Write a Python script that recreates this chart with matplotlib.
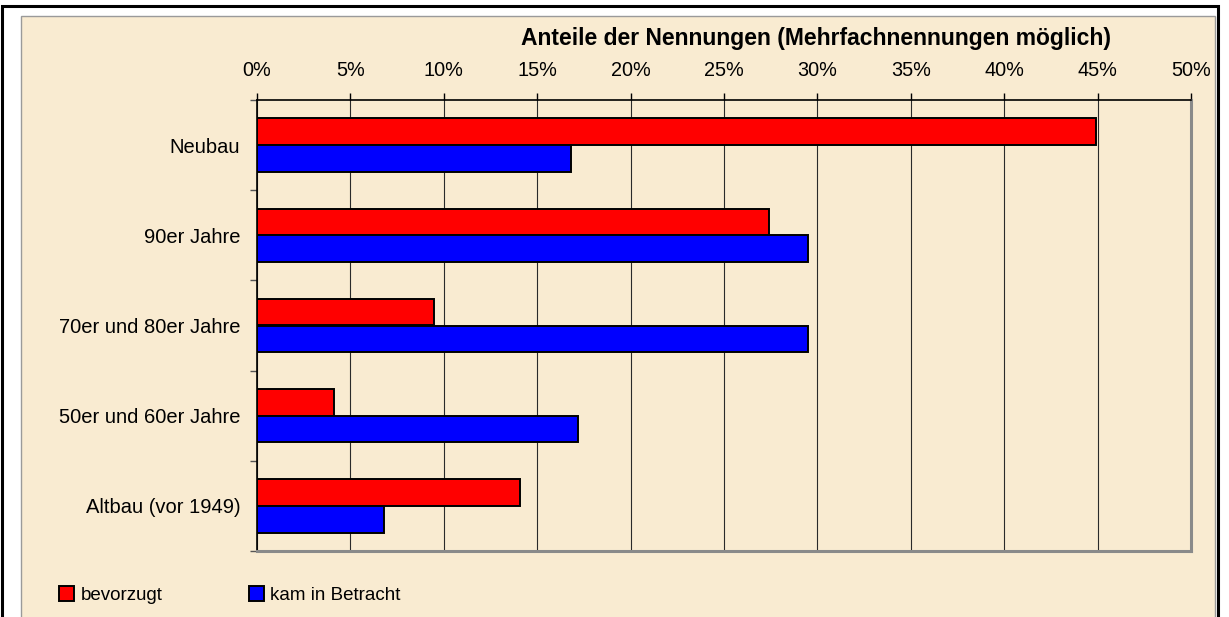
import matplotlib.pyplot as plt
from matplotlib.patches import Rectangle, Patch
import numpy as np

plt.rcParams['font.family'] = ['Liberation Sans', 'DejaVu Sans']

categories = ['Neubau', '90er Jahre', '70er und 80er Jahre', '50er und 60er Jahre', 'Altbau (vor 1949)']
bevorzugt = [44.9, 27.4, 9.5, 4.1, 14.1]          # percent
kam_in_betracht = [16.8, 29.5, 29.5, 17.2, 6.8]   # percent
x_ticks = [0, 5, 10, 15, 20, 25, 30, 35, 40, 45, 50]

W, H = 1229, 617
fig = plt.figure(figsize=(W / 100, H / 100), dpi=100)
fig.patch.set_facecolor('white')

# outer frame and parchment panel (pixel coords converted to figure fractions)
def fx(px):
    return px / W

def fy(py):
    return 1 - py / H

bg = '#F9EBD1'
fig.patches.append(Rectangle((fx(21), fy(640)), fx(1215) - fx(21), fy(16) - fy(640),
                             transform=fig.transFigure, facecolor=bg, edgecolor='#9a9a9a',
                             lw=1.0, zorder=-3))
fig.patches.append(Rectangle((fx(1.5), fy(640)), fx(1217.5) - fx(1.5), fy(5.5) - fy(640),
                             transform=fig.transFigure, facecolor='none', edgecolor='black',
                             lw=2.2, zorder=-2))

ax = fig.add_axes([fx(257), fy(551), fx(1191) - fx(257), fy(100) - fy(551)])
ax.set_facecolor('none')
ax.set_zorder(2)

y = np.arange(len(categories))
h = 0.295
ax.barh(y - h / 2, bevorzugt, height=h, color='#FF0000', edgecolor='black', lw=1.4, zorder=3)
ax.barh(y + h / 2, kam_in_betracht, height=h, color='#0000FF', edgecolor='black', lw=1.4, zorder=3)

ax.set_xlim(0, 50)
ax.set_ylim(len(categories) - 0.5, -0.5)

# x axis on top
ax.xaxis.tick_top()
ax.set_xticks(x_ticks)
ax.set_xticklabels([f'{v}%' for v in x_ticks], fontsize=14.3)
ax.tick_params(axis='x', direction='out', length=5, width=1, color='black', pad=9.5)
ax.xaxis.grid(True, color='#2a2a2a', lw=0.8, zorder=1)
ax.set_axisbelow(True)

# y: ticks at category boundaries, labels at centres
ax.set_yticks(np.arange(-0.5, len(categories), 1.0))
ax.set_yticklabels([])
ax.tick_params(axis='y', which='major', direction='out', length=5, width=1, color='#555555')
ax.set_yticks(y, minor=True)
ax.set_yticklabels(categories, minor=True, fontsize=14.5)
ax.tick_params(axis='y', which='minor', length=0, pad=12)

for s in ['left', 'top']:
    ax.spines[s].set_color('black')
    ax.spines[s].set_linewidth(1.2)
for s in ['right', 'bottom']:
    ax.spines[s].set_color('#8a8a8a')
    ax.spines[s].set_linewidth(2.2)

fig.text(fx(816), fy(38), 'Anteile der Nennungen (Mehrfachnennungen möglich)',
         ha='center', va='center', fontsize=16.5, fontweight='bold')

handles = [Patch(facecolor='#FF0000', edgecolor='black', lw=1.4, label='bevorzugt'),
           Patch(facecolor='#0000FF', edgecolor='black', lw=1.4, label='kam in Betracht')]
fig.legend(handles=handles, loc='center left', bbox_to_anchor=(fx(42), fy(595)),
           ncol=2, frameon=False, fontsize=13.5, handlelength=0.8, handleheight=0.8,
           handletextpad=0.35, columnspacing=4.6)

fig.savefig('out.png', dpi=100)
